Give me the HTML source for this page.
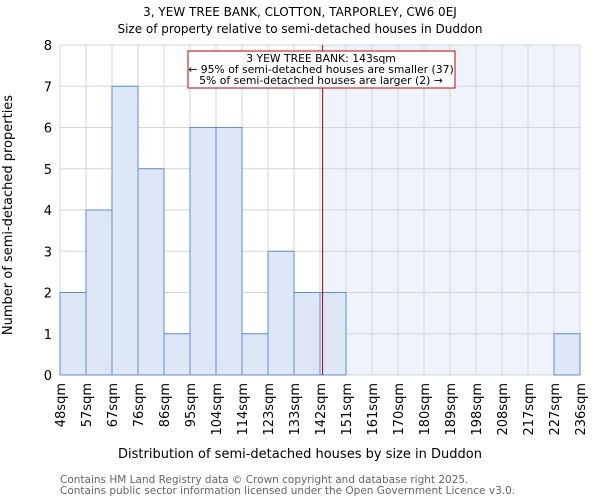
<!DOCTYPE html>
<html><head><meta charset="utf-8"><style>
html,body{margin:0;padding:0;background:#fff}
svg{display:block;font-family:"DejaVu Sans","Liberation Sans",sans-serif}
</style></head><body>
<svg id="c" width="600" height="500">
<text x="300" y="16" text-anchor="middle" font-size="12" fill="#000">3, YEW TREE BANK, CLOTTON, TARPORLEY, CW6 0EJ</text>
<text x="300" y="33" text-anchor="middle" font-size="12" fill="#000">Size of property relative to semi-detached houses in Duddon</text>
<g id="plot"></g>
<text x="300" y="458" text-anchor="middle" font-size="13">Distribution of semi-detached houses by size in Duddon</text>
<text transform="translate(12,215) rotate(-90)" text-anchor="middle" font-size="13">Number of semi-detached properties</text>
<text x="60" y="483" font-size="10.5" fill="#666">Contains HM Land Registry data © Crown copyright and database right 2025.</text>
<text x="60" y="494" font-size="10.5" fill="#666">Contains public sector information licensed under the Open Government Licence v3.0.</text>
</svg>
<script>
const categories=["48sqm","57sqm","67sqm","76sqm","86sqm","95sqm","104sqm","114sqm","123sqm","133sqm","142sqm","151sqm","161sqm","170sqm","180sqm","189sqm","198sqm","208sqm","217sqm","227sqm","236sqm"];
const counts=[2,4,7,5,1,6,6,1,3,2,2,0,0,0,0,0,0,0,0,1];
const yTicks=[0,1,2,3,4,5,6,7,8];
const markerIndex=10.1;
const ns="http://www.w3.org/2000/svg";
const g=document.getElementById('plot');
const L=60,R=580,T=45,B=375,n=counts.length,yMax=8;
const xs=i=>L+(R-L)*i/n;
const ys=v=>B-(B-T)*v/yMax;
function mk(tag,a){const e=document.createElementNS(ns,tag);for(const k in a)e.setAttribute(k,a[k]);g.appendChild(e);return e;}
let e;
e=mk('rect',{x:xs(markerIndex),y:T,width:R-xs(markerIndex),height:B-T,fill:'#eef3fc'});


for(let i=0;i<=n;i++){e=mk('line',{x1:xs(i),x2:xs(i),y1:T,y2:B,stroke:'#d6d6d6','stroke-width':1});

}
yTicks.forEach(t=>{e=mk('line',{x1:L,x2:R,y1:ys(t),y2:ys(t),stroke:'#d6d6d6','stroke-width':1});


e=mk('text',{x:L-8,y:ys(t)+5,'text-anchor':'end','font-size':13});e.textContent=t;

});
counts.forEach((v,i)=>{if(v<=0)return;e=mk('rect',{x:xs(i),y:ys(v),width:xs(i+1)-xs(i),height:B-ys(v),fill:'#dde7f5',stroke:'#5b8fd6','stroke-width':1});

});
categories.forEach((c,i)=>{const x=xs(i);e=mk('text',{transform:`translate(${x+5},${B+8}) rotate(-90)`,'text-anchor':'end','font-size':13});e.textContent=c;

});
e=mk('line',{x1:xs(markerIndex),x2:xs(markerIndex),y1:T,y2:B,stroke:'#aa0000','stroke-width':1});


e=mk('rect',{x:188,y:51,width:267,height:37,fill:'#fff',stroke:'#cc0000','stroke-width':1});


const lines=["3 YEW TREE BANK: 143sqm","← 95% of semi-detached houses are smaller (37)","5% of semi-detached houses are larger (2) →"];
lines.forEach((s,k)=>{e=mk('text',{x:321,y:62+k*11,'text-anchor':'middle','font-size':10.8});e.textContent=s;

});
</script>
</body></html>
